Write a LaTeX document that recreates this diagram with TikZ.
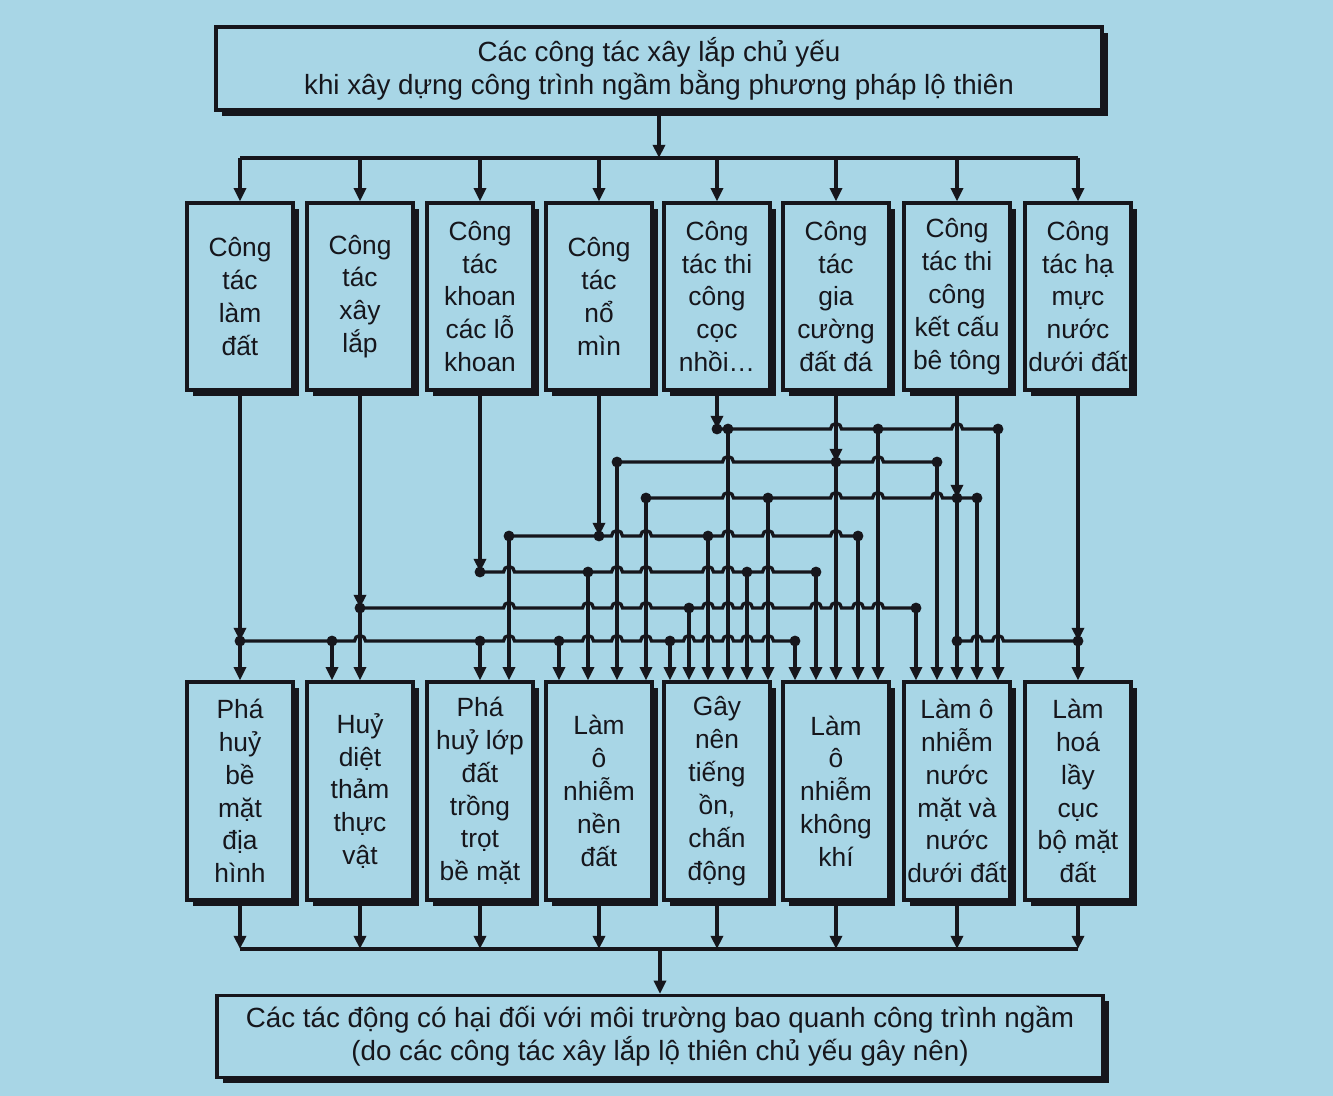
\documentclass[tikz,border=0pt]{standalone}
\usepackage{fontspec}
\setmainfont{Liberation Sans}
\usetikzlibrary{arrows.meta,shadows}

\definecolor{paper}{RGB}{168,214,230}
\definecolor{ink}{RGB}{22,22,28}

\begin{document}
\begin{tikzpicture}[
    x=0.02cm, y=-0.02cm,
    wire/.style={ink, line width=1.9pt},
    arr/.style={wire, -{Triangle[length=7.5pt,width=6.8pt]}},
    dot/.style={fill=ink},
    workbox/.style={draw=ink, line width=1.9pt, fill=paper, text=ink, align=center, inner sep=1pt,
        minimum width=2.12cm, minimum height=3.74cm, font=\fontsize{15}{18.7}\selectfont,
        drop shadow={shadow xshift=3.2pt, shadow yshift=-3.2pt, fill=ink, opacity=1}},
    effectbox/.style={workbox, minimum height=4.36cm},
    titlebox/.style={workbox, minimum width=17.72cm, minimum height=1.66cm, font=\fontsize{15.8}{18.7}\selectfont}
  ]
    \fill[paper] (0,0) rectangle (1333,1096);

    % title boxes
    \node[titlebox] (src) at (659,68.5) {Các công tác xây lắp chủ yếu\\khi xây dựng công trình ngầm bằng phương pháp lộ thiên};
    \node[titlebox, minimum height=1.64cm] (res) at (660,1036.5) {Các tác động có hại đối với môi trường bao quanh công trình ngầm\\(do các công tác xây lắp lộ thiên chủ yếu gây nên)};

    % works
    \node[workbox] (t1) at (240,296.5) {Công\\tác\\làm\\đất};
    \node[workbox] (t2) at (360,296.5) {Công\\tác\\xây\\lắp};
    \node[workbox] (t3) at (480,296.5) {Công\\tác\\khoan\\các lỗ\\khoan};
    \node[workbox] (t4) at (599,296.5) {Công\\tác\\nổ\\mìn};
    \node[workbox] (t5) at (717,296.5) {Công\\tác thi\\công\\cọc\\nhồi…};
    \node[workbox] (t6) at (836,296.5) {Công\\tác\\gia\\cường\\đất đá};
    \node[workbox] (t7) at (957,296.5) {Công\\tác thi\\công\\kết cấu\\bê tông};
    \node[workbox] (t8) at (1078,296.5) {Công\\tác hạ\\mực\\nước\\dưới đất};

    % effects
    \node[effectbox] (b1) at (240,791) {Phá\\huỷ\\bề\\mặt\\địa\\hình};
    \node[effectbox] (b2) at (360,791) {Huỷ\\diệt\\thảm\\thực\\vật};
    \node[effectbox] (b3) at (480,791) {Phá\\huỷ lớp\\đất\\trồng\\trọt\\bề mặt};
    \node[effectbox] (b4) at (599,791) {Làm\\ô\\nhiễm\\nền\\đất};
    \node[effectbox] (b5) at (717,791) {Gây\\nên\\tiếng\\ồn,\\chấn\\động};
    \node[effectbox] (b6) at (836,791) {Làm\\ô\\nhiễm\\không\\khí};
    \node[effectbox] (b7) at (957,791) {Làm ô\\nhiễm\\nước\\mặt và\\nước\\dưới đất};
    \node[effectbox] (b8) at (1078,791) {Làm\\hoá\\lầy\\cục\\bộ mặt\\đất};

    \coordinate (busT) at (0,158);
    \coordinate (busB) at (0,949);
    \coordinate (rowA) at (0,429);
    \coordinate (rowB) at (0,462);
    \coordinate (rowC) at (0,498);
    \coordinate (rowD) at (0,536);
    \coordinate (rowE) at (0,572);
    \coordinate (rowF) at (0,608);
    \coordinate (rowG) at (0,641);

    % top distribution
    \draw[arr] (src.south) -- (src.south |- busT);
    \draw[wire] (t1.north |- busT) -- (t8.north |- busT);
    \foreach \i in {1,...,8}
      \draw[arr] (t\i.north |- busT) -- (t\i.north);

    % bottom collection
    \foreach \i in {1,...,8}
      \draw[arr] (b\i.south) -- (b\i.south |- busB);
    \draw[wire] (b1.south |- busB) -- (b8.south |- busB);
    \draw[arr] (res.north |- busB) -- (res.north);

    % works down to their rows
    \draw[arr] (t1.south) -- (t1.south |- rowG);
    \draw[arr] (t2.south) -- (t2.south |- rowF);
    \draw[arr] (t3.south) -- (t3.south |- rowE);
    \draw[arr] (t4.south) -- (t4.south |- rowD);
    \draw[arr] (t5.south) -- (t5.south |- rowA);
    \draw[arr] (t6.south) -- (t6.south |- rowB);
    \draw[arr] (t7.south) -- (t7.south |- rowC);
    \draw[arr] (t8.south) -- (t8.south |- rowG);

    % rows, hopping over the wires they do not join
    \draw[wire] (240,641) \foreach \h in {360,509,588,617,646,689,708,728,747,768}
      {-- (\h-5.5,641) arc[start angle=180,end angle=0,radius=0.11cm]} -- (795,641);
    \draw[wire] (957,641) \foreach \h in {977,998}
      {-- (\h-5.5,641) arc[start angle=180,end angle=0,radius=0.11cm]} -- (1078,641);
    \draw[wire] (360,608) \foreach \h in {509,588,617,646,708,728,747,768,816,836,858,878}
      {-- (\h-5.5,608) arc[start angle=180,end angle=0,radius=0.11cm]} -- (916,608);
    \draw[wire] (480,572) \foreach \h in {509,617,646,708,728,768}
      {-- (\h-5.5,572) arc[start angle=180,end angle=0,radius=0.11cm]} -- (816,572);
    \draw[wire] (509,536) \foreach \h in {617,646,728,768,836}
      {-- (\h-5.5,536) arc[start angle=180,end angle=0,radius=0.11cm]} -- (858,536);
    \draw[wire] (646,498) \foreach \h in {728,836,878,937}
      {-- (\h-5.5,498) arc[start angle=180,end angle=0,radius=0.11cm]} -- (977,498);
    \draw[wire] (617,462) \foreach \h in {728,878}
      {-- (\h-5.5,462) arc[start angle=180,end angle=0,radius=0.11cm]} -- (937,462);
    \draw[wire] (717,429) \foreach \h in {836,957}
      {-- (\h-5.5,429) arc[start angle=180,end angle=0,radius=0.11cm]} -- (998,429);

    % drops into the effects
    \foreach \x/\y/\b in {240/641/b1, 332/641/b2, 360/608/b2, 480/641/b3, 509/536/b3,
        559/641/b4, 588/572/b4, 617/462/b4, 646/498/b4,
        670/641/b5, 689/608/b5, 708/536/b5, 728/429/b5, 747/572/b5, 768/498/b5,
        795/641/b6, 816/572/b6, 836/462/b6, 858/536/b6, 878/429/b6,
        916/608/b7, 937/462/b7, 957/498/b7, 977/498/b7, 998/429/b7, 1078/641/b8}
      \draw[arr] (\x,\y) -- (\x,\y |- \b.north);

    % junctions
    \foreach \x/\y in {240/641, 332/641, 480/641, 559/641, 670/641, 795/641, 957/641, 1078/641,
        360/608, 689/608, 916/608, 480/572, 588/572, 747/572, 816/572,
        509/536, 599/536, 708/536, 858/536, 646/498, 768/498, 957/498, 977/498,
        617/462, 836/462, 937/462, 717/429, 728/429, 878/429, 998/429}
      \fill[dot] (\x,\y) circle[radius=3.1pt];
\end{tikzpicture}
\end{document}
